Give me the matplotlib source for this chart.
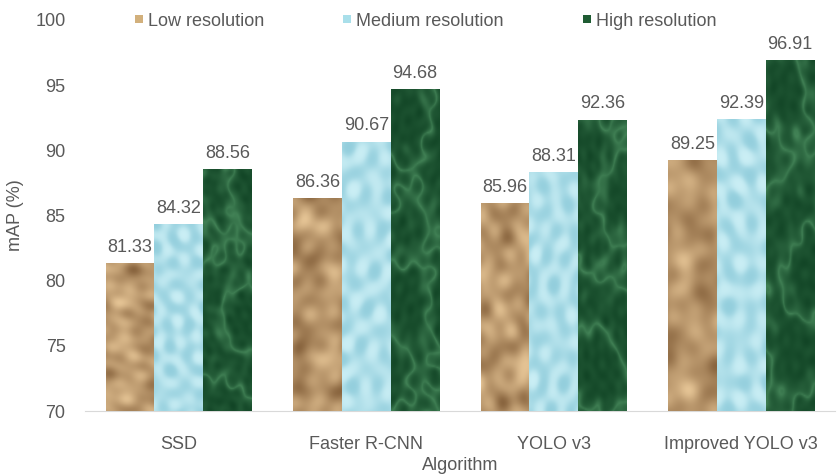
import numpy as np
import matplotlib.pyplot as plt
from matplotlib.lines import Line2D

# Data
algorithms = ['SSD', 'Faster R-CNN', 'YOLO v3', 'Improved YOLO v3']
series_names = ['Low resolution', 'Medium resolution', 'High resolution']
low_res = [81.33, 86.36, 85.96, 89.25]
medium_res = [84.32, 90.67, 88.31, 92.39]
high_res = [88.56, 94.68, 92.36, 96.91]
y_ticks = [70, 75, 80, 85, 90, 95, 100]

plt.rcParams['font.family'] = ['Liberation Sans', 'DejaVu Sans']
text_color = '#595959'

# base colours (legend swatches) and texture colour ranges
swatch = ['#d2b07c', '#a9dfea', '#1f5c33']
tex_lo = [np.array([115, 78, 42]), np.array([150, 208, 222]), np.array([14, 64, 34])]
tex_hi = [np.array([228, 195, 148]), np.array([205, 240, 246]), np.array([62, 125, 82])]


def wavy(yy, xx, freq, n, phase):
    # sum of plane waves at spread-out angles -> irregular looking surface
    v = np.zeros_like(xx)
    for k in range(n):
        a = k * 2.399 + phase
        f = freq * (1 + 0.37 * ((k * 5) % 7) / 7)
        v += np.sin(f * (xx * np.cos(a) + yy * np.sin(a)) + 1.7 * k + phase)
    return v / n


def make_texture(kind, phase, h=240, w=60):
    yy, xx = np.mgrid[0:h, 0:w].astype(float)
    if kind == 0:
        # crumpled paper: large soft folds
        v = wavy(yy, xx, 0.09, 7, phase) + 0.5 * wavy(yy, xx, 0.2, 5, phase + 1)
        v = (v - v.min()) / (v.max() - v.min())
        v = 0.2 + 0.8 * v
    elif kind == 1:
        # water drops: pale base with soft blobs
        v = wavy(yy, xx, 0.22, 6, phase)
        v = (v - v.min()) / (v.max() - v.min())
        v = 0.45 + 0.55 * np.tanh(3 * (v - 0.5))
    else:
        # green marble: dark with faint veins
        v = 1 - np.abs(wavy(yy, xx, 0.06, 5, phase) + 0.3 * wavy(yy, xx, 0.25, 6, phase + 2))
        v = (v - v.min()) / (v.max() - v.min())
        v = 0.15 * wavy(yy, xx, 0.4, 6, phase + 3) + 0.2 + 0.8 * v ** 6
    rgb = tex_lo[kind] + (tex_hi[kind] - tex_lo[kind]) * v[..., None]
    return (rgb / 255.0).clip(0, 1)


fig = plt.figure(figsize=(8.39, 4.74), dpi=100)
ax = fig.add_axes([85 / 839, 63 / 474, 750 / 839, 391 / 474])

x = np.arange(len(algorithms))
width = 0.26
all_series = [low_res, medium_res, high_res]

for i, vals in enumerate(all_series):
    bars = ax.bar(x + (i - 1) * width, np.array(vals) - 70, width, bottom=70,
                  color=swatch[i], linewidth=0, zorder=2)
    for j, b in enumerate(bars):
        x0, y0 = b.get_x(), b.get_y()
        img = make_texture(i, phase=1.3 * j + 0.7 * i)
        im = ax.imshow(img, extent=(x0, x0 + b.get_width(), y0, y0 + b.get_height()),
                       aspect='auto', origin='lower', zorder=3, interpolation='bilinear')
        im.set_clip_path(b)
        ax.text(x0 + b.get_width() / 2, vals[j] + 0.55, f'{vals[j]:.2f}',
                ha='center', va='bottom', fontsize=13, color=text_color, zorder=4)

ax.set_xlim(-0.5, len(algorithms) - 0.5)
ax.set_ylim(70, 100)
ax.set_yticks(y_ticks)
ax.set_xticks(x)
ax.set_xticklabels(algorithms)
ax.tick_params(length=0, labelsize=13, labelcolor=text_color)
ax.tick_params(axis='y', pad=14)
ax.tick_params(axis='x', pad=18)
for s in ['top', 'right', 'left']:
    ax.spines[s].set_visible(False)
ax.spines['bottom'].set_color('#d9d9d9')
ax.set_ylabel('mAP (%)', fontsize=13, color=text_color, labelpad=8)
ax.set_xlabel('Algorithm', fontsize=13, color=text_color, labelpad=3)

handles = [Line2D([], [], marker='s', linestyle='none', markersize=6,
                  markerfacecolor=swatch[i], markeredgewidth=0) for i in range(3)]
fig.legend(handles, series_names, loc='center', bbox_to_anchor=(424 / 839, 1 - 21 / 474),
           ncol=3, frameon=False, fontsize=13, labelcolor=text_color,
           handletextpad=0.1, columnspacing=4.2, handlelength=0.8)

fig.savefig('out.png', dpi=100)
